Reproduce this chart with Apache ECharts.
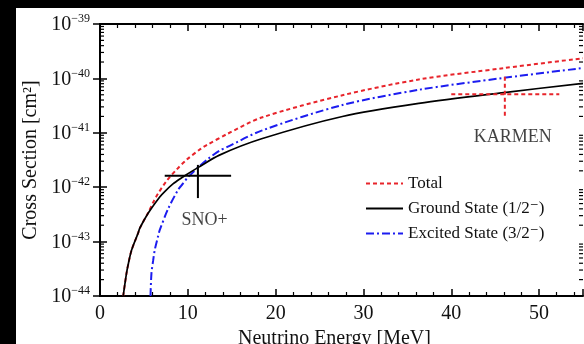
<!DOCTYPE html>
<html>
<head>
<meta charset="utf-8">
<script src="https://cdn.jsdelivr.net/npm/echarts@6/dist/echarts.min.js"></script>
<style>
html,body{margin:0;padding:0;background:#000;width:584px;height:344px;overflow:hidden;}
#chart{position:absolute;left:16px;top:8px;width:568px;height:336px;background:#fff;}
</style>
</head>
<body>
<div id="chart"></div>
<script>
// Neutrino energy [MeV] and log10 of cross section [cm^2]
const totalE        = [2.64, 3.02, 3.21, 3.59, 4.35, 4.54, 5.48, 6.05, 6.6, 7.56, 8.7, 9.83, 11.5, 12.1, 14.5, 18.4, 27.6, 36.3, 46.0, 55.0];
const totalLogSigma = [-44.0, -43.58, -43.42, -43.16, -42.84, -42.75, -42.47, -42.28, -42.12, -41.89, -41.68, -41.50, -41.29, -41.23, -41.02, -40.72, -40.31, -40.02, -39.81, -39.63];

const groundE        = [2.64, 3.02, 3.21, 3.59, 4.35, 4.54, 5.48, 6.8, 7.37, 8.31, 9.26, 9.83, 11.15, 13.6, 18.4, 27.6, 36.3, 46.0, 55.0];
const groundLogSigma = [-44.0, -43.58, -43.42, -43.16, -42.84, -42.75, -42.48, -42.18, -42.08, -41.94, -41.83, -41.77, -41.64, -41.41, -41.11, -40.70, -40.46, -40.26, -40.09];

const excitedE        = [5.75, 5.86, 6.05, 6.24, 6.6, 6.8, 7.75, 8.88, 9.26, 10.0, 11.15, 12.3, 13.6, 14.5, 18.4, 27.6, 36.3, 46.0, 55.0];
const excitedLogSigma = [-44.0, -43.58, -43.35, -43.15, -42.91, -42.79, -42.40, -42.05, -41.97, -41.82, -41.64, -41.48, -41.33, -41.26, -40.96, -40.49, -40.21, -39.99, -39.81];

// measurement points: [E, logSigma, Elow, Ehigh, logSigmaLow, logSigmaHigh]
const snoPoint    = [11.15, -41.79, 7.37, 14.93, -42.20, -41.59];
const karmenPoint = [46.1, -40.29, 40.0, 52.3, -40.70, -39.97];

const seriesNames = ['Total', 'Ground State (1/2\u207B)', 'Excited State (3/2\u207B)'];

const FONT = '"Liberation Serif", "DejaVu Serif", serif';
const TXT = '#111';
const RED = '#e8242b';
const BLUE = '#1c1cf0';

function pairs(xs, ys){ return xs.map((x,i)=>[x, ys[i]]); }

// minor log ticks (2..9 within each decade)
const minorTickVals = [];
for (let d = -44; d < -39; d++) for (let k = 2; k <= 9; k++) minorTickVals.push([0, d + Math.log10(k)]);

const chart = echarts.init(document.getElementById('chart'), null, {renderer:'canvas'});

const axisLineStyle = {color:'#000', width:2};

function errorBarRender(color, type, width){
  return function(params, api){
    const p = api.coord([api.value(0), api.value(1)]);
    const l = api.coord([api.value(2), api.value(1)]);
    const r = api.coord([api.value(3), api.value(1)]);
    const b = api.coord([api.value(0), api.value(4)]);
    const t = api.coord([api.value(0), api.value(5)]);
    const st = {stroke: color, lineWidth: width, lineDash: type};
    return {type:'group', children:[
      {type:'line', shape:{x1:l[0], y1:p[1], x2:r[0], y2:p[1]}, style:st},
      {type:'line', shape:{x1:p[0], y1:t[1], x2:p[0], y2:b[1]}, style:st}
    ]};
  };
}

const option = {
  animation:false,
  backgroundColor:'#fff',
  textStyle:{fontFamily:FONT, color:TXT},
  grid:{left:84, top:16, right:1, bottom:48, containLabel:false, outerBoundsMode:'none'},
  legend:{
    data: seriesNames,
    orient:'vertical',
    left:349, top:167, padding:0,
    itemWidth:37, itemHeight:14, itemGap:8,
    itemStyle:{opacity:0},
    textStyle:{fontFamily:FONT, fontSize:17, color:TXT}
  },
  xAxis:[{
    type:'value', min:0, max:55, interval:10, position:'bottom',
    axisLine:{show:true, lineStyle:axisLineStyle},
    axisTick:{show:true, inside:true, length:7, lineStyle:{color:'#000', width:1.5}},
    minorTick:{show:true, splitNumber:5, length:4, lineStyle:{color:'#000', width:1.2}},
    axisLabel:{fontFamily:FONT, fontSize:20, color:TXT, margin:8, showMaxLabel:false},
    splitLine:{show:false},
    name:'Neutrino Energy [MeV]', nameLocation:'middle', nameGap:30,
    nameTextStyle:{fontFamily:FONT, fontSize:20, color:TXT, padding:[0,14,0,0]}
  },{
    type:'value', min:0, max:55, interval:10, position:'top',
    axisLine:{show:true, lineStyle:axisLineStyle},
    axisTick:{show:true, inside:true, length:7, lineStyle:{color:'#000', width:1.5}},
    minorTick:{show:true, splitNumber:5, length:4, lineStyle:{color:'#000', width:1.2}},
    axisLabel:{show:false}, splitLine:{show:false}
  }],
  yAxis:[{
    type:'value', min:-44, max:-39, interval:1, position:'left',
    axisLine:{show:true, lineStyle:axisLineStyle},
    axisTick:{show:true, inside:true, length:7, lineStyle:{color:'#000', width:1.5}},
    axisLabel:{
      margin:10,
      formatter:function(v){ return '{b|10}{s|\u2212' + Math.round(-v) + '}'; },
      rich:{
        b:{fontFamily:FONT, fontSize:20, color:TXT, verticalAlign:'bottom', lineHeight:22},
        s:{fontFamily:FONT, fontSize:12, color:TXT, verticalAlign:'top', lineHeight:12, padding:[0,0,10,0]}
      }
    },
    splitLine:{show:false},
    name:'Cross Section [cm\u00B2]', nameLocation:'middle', nameGap:58,
    nameTextStyle:{fontFamily:FONT, fontSize:20, color:TXT}
  },{
    type:'value', min:-44, max:-39, interval:1, position:'right',
    axisLine:{show:true, lineStyle:axisLineStyle},
    axisTick:{show:true, inside:true, length:7, lineStyle:{color:'#000', width:1.5}},
    axisLabel:{show:false}, splitLine:{show:false}
  }],
  series:[
    {
      name: seriesNames[0], type:'line', data: pairs(totalE, totalLogSigma),
      symbol:'none', smooth:0.3, z:3,
      lineStyle:{color:RED, width:2, type:[4,3]}, itemStyle:{color:RED}
    },
    {
      name: seriesNames[1], type:'line', data: pairs(groundE, groundLogSigma),
      symbol:'none', smooth:0.3, z:4,
      lineStyle:{color:'#000', width:1.7, type:'solid'}, itemStyle:{color:'#000'}
    },
    {
      name: seriesNames[2], type:'line', data: pairs(excitedE, excitedLogSigma),
      symbol:'none', smooth:0.3, z:3,
      lineStyle:{color:BLUE, width:2, type:[8,3,2,3]}, itemStyle:{color:BLUE}
    },
    {
      name:'SNO+ point', type:'custom', renderItem: errorBarRender('#000', null, 2),
      data:[snoPoint], z:5, silent:true
    },
    {
      name:'KARMEN point', type:'custom', renderItem: errorBarRender(RED, [4,3], 2),
      data:[karmenPoint], z:5, silent:true
    },
    {
      name:'labels', type:'scatter', symbolSize:0, silent:true,
      data:[{name:'SNO+', value:[11.9, -42.6]}, {name:'KARMEN', value:[47.0, -41.08]}],
      label:{show:true, position:'inside', formatter:'{b}', fontFamily:FONT, fontSize:18, color:TXT}
    },
    {
      name:'minorTicks', type:'custom', silent:true, z:6,
      data: minorTickVals,
      renderItem:function(params, api){
        const cs = params.coordSys;
        const y = api.coord([0, api.value(1)])[1];
        const st = {stroke:'#000', lineWidth:1.2};
        return {type:'group', children:[
          {type:'line', shape:{x1:cs.x, y1:y, x2:cs.x+4, y2:y}, style:st},
          {type:'line', shape:{x1:cs.x+cs.width-4, y1:y, x2:cs.x+cs.width, y2:y}, style:st}
        ]};
      }
    }
  ]
};
chart.setOption(option);
</script>
</body>
</html>
